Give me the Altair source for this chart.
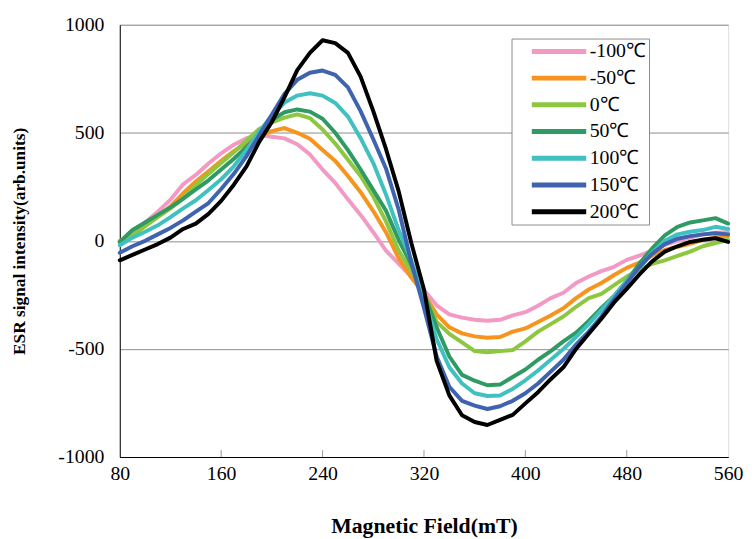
import altair as alt
import pandas as pd

# ---------------- data ----------------
field_mT = [80, 90, 100, 110, 120, 130, 140, 150, 160, 170, 180, 190, 200, 210, 220,
            230, 240, 250, 260, 270, 280, 290, 300, 310, 320, 330, 340, 350, 360, 370,
            380, 390, 400, 410, 420, 430, 440, 450, 460, 470, 480, 490, 500, 510, 520,
            530, 540, 550, 560]

temps = ["-100℃", "-50℃", "0℃", "50℃", "100℃", "150℃", "200℃"]
colors = ["#F39AC4", "#F7941D", "#8DC63F", "#2F9A63", "#40C0C0", "#3F63AE", "#000000"]

sig_m100 = [-5, 35, 85, 135, 190, 262, 305, 358, 405, 445, 475, 490, 482, 474, 447,
            400, 330, 268, 192, 120, 40, -45, -105, -165, -228, -298, -340, -355, -365, -370,
            -365, -345, -330, -300, -265, -240, -195, -165, -140, -120, -88, -68, -45, -18, 0,
            15, 30, 38, 40]
sig_m50 = [0, 25, 68, 115, 160, 220, 275, 322, 370, 415, 452, 485, 508, 522, 500,
           472, 420, 370, 300, 225, 138, 40, -80, -170, -245, -340, -400, -428, -442, -448,
           -445, -420, -405, -375, -345, -312, -265, -225, -195, -158, -125, -100, -68, -42, -27,
           -14, 5, 15, 22]
sig_0 = [-5, 30, 68, 110, 150, 195, 258, 310, 360, 410, 465, 518, 548, 570, 585,
         568, 515, 450, 375, 300, 205, 90, -45, -140, -245, -375, -430, -470, -510, -515,
         -510, -505, -465, -420, -385, -350, -305, -265, -245, -205, -165, -135, -106, -90, -70,
         -50, -25, -10, 5]
sig_50 = [-5, 50, 85, 120, 155, 195, 238, 280, 330, 380, 435, 490, 560, 595, 608,
          598, 565, 500, 420, 330, 235, 140, 5, -110, -245, -400, -535, -620, -647, -668,
          -665, -630, -595, -550, -510, -465, -425, -370, -310, -255, -185, -105, -35, 25, 65,
          85, 95, 105, 80]
sig_100 = [-20, 15, 42, 72, 110, 150, 188, 235, 285, 345, 420, 505, 580, 640, 672,
           683, 672, 638, 575, 475, 360, 215, 50, -90, -265, -455, -585, -660, -705, -718,
           -715, -685, -645, -600, -550, -500, -445, -385, -320, -255, -185, -125, -55, 0, 30,
           42, 50, 65, 55]
sig_150 = [-55, -25, 0, 30, 60, 95, 135, 175, 240, 310, 392, 489, 585, 680, 745,
           778, 788, 768, 710, 600, 470, 335, 145, -100, -310, -535, -675, -740, -762, -778,
           -765, -740, -705, -660, -605, -550, -480, -420, -350, -270, -195, -120, -60, -15, 10,
           22, 30, 35, 30]
sig_200 = [-90, -65, -40, -15, 15, 55, 80, 125, 185, 260, 345, 458, 550, 665, 790,
           870, 928, 915, 870, 760, 600, 425, 230, -10, -225, -555, -715, -807, -838, -852,
           -828, -805, -752, -700, -640, -585, -500, -430, -360, -285, -222, -155, -95, -50, -25,
           -5, 5, 12, -5]

series = [sig_m100, sig_m50, sig_0, sig_50, sig_100, sig_150, sig_200]

x_ticks = [80, 160, 240, 320, 400, 480, 560]
y_ticks = [-1000, -500, 0, 500, 1000]
inner_ticks = [160, 240, 320, 400, 480]

rows = []
for t, vals in zip(temps, series):
    for x, y in zip(field_mT, vals):
        rows.append({"field": x, "signal": y, "temp": t})
df = pd.DataFrame(rows)
tick_df = pd.DataFrame({"field": inner_ticks})

# ---------------- chart ----------------
W, H = 615, 437
SERIF = "Liberation Serif"

x_enc = alt.X(
    "field:Q",
    scale=alt.Scale(domain=[80, 560], nice=False, zero=False),
    axis=alt.Axis(
        values=x_ticks, title="Magnetic Field(mT)", grid=False, ticks=False,
        labelExpr="'' + datum.value",
        labelFont=SERIF, labelFontSize=20, labelColor="black", labelPadding=7,
        labelFlush=False, domainColor="black", domainWidth=1,
        titleFont=SERIF, titleFontSize=22, titleFontWeight="bold", titleColor="black",
        titleBaseline="alphabetic", titleY=76,
    ),
)
y_enc = alt.Y(
    "signal:Q",
    scale=alt.Scale(domain=[-1000, 1000], nice=False, zero=False),
    axis=alt.Axis(
        values=y_ticks, title="ESR signal intensity(arb.units)", grid=True,
        gridColor="#8c8c8c", gridWidth=1, ticks=False,
        labelExpr="'' + datum.value",
        labelFont=SERIF, labelFontSize=20, labelColor="black", labelPadding=16,
        labelFlush=False, domainColor="black", domainWidth=1,
        titleFont=SERIF, titleFontSize=17.5, titleFontWeight="bold", titleColor="black",
        titleX=-101, titleY=H / 2, titleBaseline="middle", titleAngle=270,
    ),
)
color_enc = alt.Color(
    "temp:N",
    scale=alt.Scale(domain=temps, range=colors),
    sort=temps,
    legend=alt.Legend(
        title=None, orient="none", legendX=396, legendY=14, direction="vertical",
        symbolType="M-5.5,0H5.5", symbolSize=100, symbolStrokeWidth=5,
        symbolOffset=35, labelOffset=21,
        labelFont=SERIF, labelFontSize=20, labelColor="black",
        labelExpr="datum.label + '\u00a0\u00a0\u00a0\u00a0\u00a0\u00a0\u00a0\u00a0\u00a0\u00a0'",
        strokeColor="#8c8c8c", fillColor="white", padding=3, rowPadding=7,
        labelLimit=300,
    ),
)

layers = []
for t in temps:
    layers.append(
        alt.Chart(df)
        .transform_filter(alt.datum.temp == t)
        .mark_line(strokeWidth=4, strokeJoin="round", strokeCap="round")
        .encode(x=x_enc, y=y_enc, color=color_enc, order=alt.Order("field:Q"))
    )

ticks = (
    alt.Chart(tick_df)
    .mark_rule(color="#999999", strokeWidth=1)
    .encode(x=alt.X("field:Q"), y=alt.value(H), y2=alt.value(H - 7))
)

chart = (
    alt.layer(ticks, *layers)
    .properties(
        width=W, height=H,
        autosize=alt.AutoSizeParams(type="none"),
        padding={"left": 113, "top": 14, "right": 16, "bottom": 81},
    )
    .configure_view(stroke="#707070", strokeWidth=1)
    .configure(background="white")
)

chart.save("out.html", embed_options={"renderer": "svg", "actions": False})
